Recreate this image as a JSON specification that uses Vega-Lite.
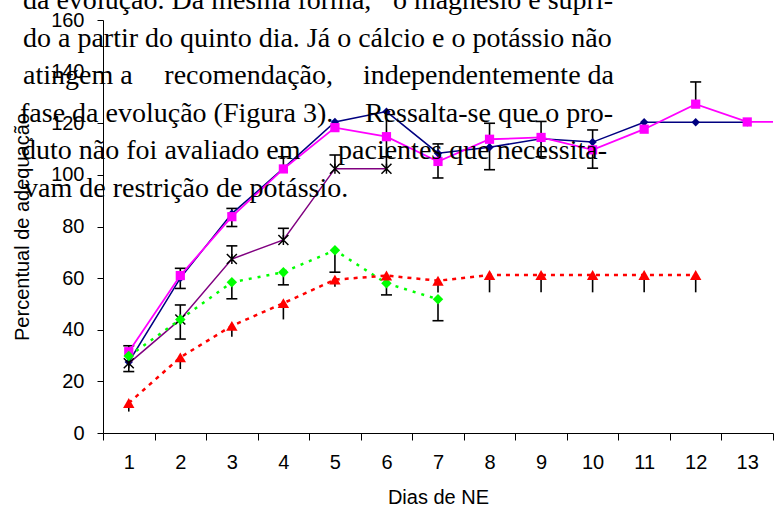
{
  "$schema": "https://vega.github.io/schema/vega-lite/v6.json",
  "width": 670,
  "height": 413,
  "autosize": "none",
  "padding": {"left": 103, "top": 20, "right": 2, "bottom": 80},
  "background": "white",
  "config": {
    "view": {"stroke": null},
    "axis": {
      "grid": false,
      "domainColor": "#000000",
      "tickColor": "#000000",
      "labelColor": "#000000",
      "titleColor": "#000000",
      "labelFont": "Liberation Sans",
      "titleFont": "Liberation Sans",
      "labelFontSize": 20,
      "titleFontSize": 20,
      "titleFontWeight": "normal"
    }
  },
  "datasets": {
    "series": [
      {"serie": "A", "dia": 1, "valor": 27.5}, {"serie": "A", "dia": 2, "valor": 60}, {"serie": "A", "dia": 3, "valor": 85}, {"serie": "A", "dia": 4, "valor": 102.5}, {"serie": "A", "dia": 5, "valor": 120.5}, {"serie": "A", "dia": 6, "valor": 124.5}, {"serie": "A", "dia": 7, "valor": 108.4}, {"serie": "A", "dia": 8, "valor": 110.7}, {"serie": "A", "dia": 9, "valor": 114}, {"serie": "A", "dia": 10, "valor": 112.7}, {"serie": "A", "dia": 11, "valor": 120.4}, {"serie": "A", "dia": 12, "valor": 120.4}, {"serie": "A", "dia": 13, "valor": 120.4},
      {"serie": "B", "dia": 1, "valor": 31.5}, {"serie": "B", "dia": 2, "valor": 61}, {"serie": "B", "dia": 3, "valor": 83.8}, {"serie": "B", "dia": 4, "valor": 102.3}, {"serie": "B", "dia": 5, "valor": 118.3}, {"serie": "B", "dia": 6, "valor": 114.8}, {"serie": "B", "dia": 7, "valor": 105.2}, {"serie": "B", "dia": 8, "valor": 113.8}, {"serie": "B", "dia": 9, "valor": 114.5}, {"serie": "B", "dia": 10, "valor": 109.7}, {"serie": "B", "dia": 11, "valor": 117.7}, {"serie": "B", "dia": 12, "valor": 127.4}, {"serie": "B", "dia": 13, "valor": 120.5}, {"serie": "B", "dia": 14, "valor": 120.5},
      {"serie": "C", "dia": 1, "valor": 27}, {"serie": "C", "dia": 2, "valor": 44}, {"serie": "C", "dia": 3, "valor": 67.4}, {"serie": "C", "dia": 4, "valor": 74.8}, {"serie": "C", "dia": 5, "valor": 102.4}, {"serie": "C", "dia": 6, "valor": 102.4},
      {"serie": "D", "dia": 1, "valor": 29.8}, {"serie": "D", "dia": 2, "valor": 44}, {"serie": "D", "dia": 3, "valor": 58.4}, {"serie": "D", "dia": 4, "valor": 62.3}, {"serie": "D", "dia": 5, "valor": 70.8}, {"serie": "D", "dia": 6, "valor": 58}, {"serie": "D", "dia": 7, "valor": 51.8},
      {"serie": "E", "dia": 1, "valor": 11.6}, {"serie": "E", "dia": 2, "valor": 29.3}, {"serie": "E", "dia": 3, "valor": 41.5}, {"serie": "E", "dia": 4, "valor": 50.3}, {"serie": "E", "dia": 5, "valor": 59.4}, {"serie": "E", "dia": 6, "valor": 61}, {"serie": "E", "dia": 7, "valor": 59}, {"serie": "E", "dia": 8, "valor": 61.2}, {"serie": "E", "dia": 9, "valor": 61.2}, {"serie": "E", "dia": 10, "valor": 61.2}, {"serie": "E", "dia": 11, "valor": 61.2}, {"serie": "E", "dia": 12, "valor": 61.2}
    ],
    "erros": [
      {"dia": 1, "de": 11.6, "ate": 8.3, "cap": false},
      {"dia": 2, "de": 29.3, "ate": 24.8, "cap": false},
      {"dia": 3, "de": 41.5, "ate": 37.3, "cap": false},
      {"dia": 4, "de": 50.3, "ate": 44, "cap": false},
      {"dia": 5, "de": 59.4, "ate": 56.7, "cap": false},
      {"dia": 7, "de": 59, "ate": 54.4, "cap": false},
      {"dia": 8, "de": 61.2, "ate": 54.5, "cap": false},
      {"dia": 9, "de": 61.2, "ate": 54.5, "cap": false},
      {"dia": 10, "de": 61.2, "ate": 54.5, "cap": false},
      {"dia": 11, "de": 61.2, "ate": 54.5, "cap": false},
      {"dia": 12, "de": 61.2, "ate": 54.5, "cap": false},
      {"dia": 3, "de": 58.4, "ate": 52, "cap": true},
      {"dia": 4, "de": 62.3, "ate": 57.4, "cap": true},
      {"dia": 5, "de": 70.8, "ate": 62.3, "cap": true},
      {"dia": 6, "de": 58, "ate": 53.5, "cap": true},
      {"dia": 7, "de": 51.8, "ate": 43.5, "cap": true},
      {"dia": 1, "de": 27, "ate": 23.8, "cap": true},
      {"dia": 2, "de": 44, "ate": 49.6, "cap": true},
      {"dia": 2, "de": 44, "ate": 36.4, "cap": true},
      {"dia": 3, "de": 67.4, "ate": 72.5, "cap": true},
      {"dia": 4, "de": 74.8, "ate": 79.3, "cap": true},
      {"dia": 5, "de": 102.4, "ate": 107.7, "cap": true},
      {"dia": 6, "de": 102.4, "ate": 107, "cap": true},
      {"dia": 1, "de": 31.5, "ate": 33.8, "cap": true},
      {"dia": 2, "de": 61, "ate": 63.8, "cap": true},
      {"dia": 2, "de": 61, "ate": 56, "cap": true},
      {"dia": 3, "de": 83.8, "ate": 87, "cap": true},
      {"dia": 3, "de": 83.8, "ate": 80, "cap": true},
      {"dia": 4, "de": 102.3, "ate": 107, "cap": true},
      {"dia": 6, "de": 107, "ate": 124.5, "cap": false},
      {"dia": 7, "de": 105.2, "ate": 112, "cap": true},
      {"dia": 7, "de": 105.2, "ate": 98.8, "cap": true},
      {"dia": 8, "de": 113.8, "ate": 120, "cap": true},
      {"dia": 8, "de": 113.8, "ate": 102, "cap": true},
      {"dia": 9, "de": 114.5, "ate": 120.7, "cap": true},
      {"dia": 9, "de": 114.5, "ate": 107, "cap": true},
      {"dia": 10, "de": 111, "ate": 117.4, "cap": true},
      {"dia": 10, "de": 111, "ate": 102.6, "cap": true},
      {"dia": 12, "de": 127.4, "ate": 136, "cap": true}
    ],
    "textoEsq": [
      {"x": -1.052, "y": 164.3, "t": "da evolução. Da mesma forma,"},
      {"x": -1.052, "y": 149.6, "t": "do a partir do quinto dia. Já o cálcio e o potássio não"},
      {"x": -1.052, "y": 135.1, "t": "atingem  a"},
      {"x": 1.69, "y": 135.1, "t": "recomendação,"},
      {"x": -1.11, "y": 120.5, "t": "fase da evolução (Figura 3)."},
      {"x": -1.07, "y": 106.0, "t": "duto não foi avaliado em"},
      {"x": -1.033, "y": 91.5, "t": "vam de restrição de potássio."}
    ],
    "textoDir": [
      {"x": 10.395, "y": 164.3, "t": "o magnésio é supri-"},
      {"x": 10.415, "y": 135.1, "t": "independentemente  da"},
      {"x": 10.395, "y": 120.5, "t": "Ressalta-se que o pro-"},
      {"x": 10.28, "y": 106.0, "t": "pacientes que necessita-"}
    ]
  },
  "encoding": {
    "x": {
      "field": "dia",
      "type": "quantitative",
      "scale": {"domain": [0.5, 13.5], "nice": false, "zero": false},
      "axis": {
        "title": "Dias de NE",
        "values": [0.5, 1.5, 2.5, 3.5, 4.5, 5.5, 6.5, 7.5, 8.5, 9.5, 10.5, 11.5, 12.5, 13.5],
        "labelExpr": "datum.value > 13 ? '' : toString(datum.value + 0.5)",
        "labelOffset": 25.77,
        "tickSize": 7,
        "labelPadding": 12,
        "titlePadding": 15,
        "labelFlush": false,
        "labelOverlap": false
      }
    },
    "y": {
      "field": "valor",
      "type": "quantitative",
      "scale": {"domain": [0, 160], "nice": false},
      "axis": {
        "title": "Percentual de adequação",
        "values": [0, 20, 40, 60, 80, 100, 120, 140, 160],
        "tickSize": 6,
        "labelPadding": 13,
        "titlePadding": 18
      }
    }
  },
  "layer": [
    {
      "data": {"name": "erros"},
      "mark": {"type": "rule", "color": "#000000", "strokeWidth": 1.6},
      "encoding": {"y": {"field": "de", "type": "quantitative"}, "y2": {"field": "ate"}}
    },
    {
      "data": {"name": "erros"},
      "transform": [{"filter": "datum.cap"}],
      "mark": {"type": "point", "shape": "M-1,0L1,0", "filled": false, "stroke": "#000000", "strokeWidth": 1.6, "size": 121, "opacity": 1},
      "encoding": {"y": {"field": "ate", "type": "quantitative"}}
    },
    {
      "data": {"name": "series"},
      "transform": [{"filter": "datum.serie == 'A'"}],
      "mark": {"type": "line", "color": "#000080", "strokeWidth": 1.5},
      "encoding": {}
    },
    {
      "data": {"name": "series"},
      "transform": [{"filter": "datum.serie == 'A'"}],
      "mark": {"type": "point", "shape": "diamond", "filled": true, "color": "#000080", "size": 70, "opacity": 1},
      "encoding": {}
    },
    {
      "data": {"name": "series"},
      "transform": [{"filter": "datum.serie == 'B'"}],
      "mark": {"type": "line", "color": "#FF00FF", "strokeWidth": 1.8, "clip": true},
      "encoding": {}
    },
    {
      "data": {"name": "series"},
      "transform": [{"filter": "datum.serie == 'B' && datum.dia <= 13"}],
      "mark": {"type": "point", "shape": "square", "filled": true, "color": "#FF00FF", "size": 85, "opacity": 1},
      "encoding": {}
    },
    {
      "data": {"name": "series"},
      "transform": [{"filter": "datum.serie == 'C'"}],
      "mark": {"type": "line", "color": "#800080", "strokeWidth": 1.5},
      "encoding": {}
    },
    {
      "data": {"name": "series"},
      "transform": [{"filter": "datum.serie == 'C'"}],
      "mark": {"type": "point", "shape": "M-1,-1L1,1M-1,1L1,-1M0,-1L0,1", "filled": false, "stroke": "#000000", "strokeWidth": 1.5, "size": 100, "opacity": 1},
      "encoding": {}
    },
    {
      "data": {"name": "series"},
      "transform": [{"filter": "datum.serie == 'D'"}],
      "mark": {"type": "line", "color": "#00FF00", "strokeWidth": 2.5, "strokeDash": [3, 6]},
      "encoding": {}
    },
    {
      "data": {"name": "series"},
      "transform": [{"filter": "datum.serie == 'D'"}],
      "mark": {"type": "point", "shape": "diamond", "filled": true, "color": "#00FF00", "size": 110, "opacity": 1},
      "encoding": {}
    },
    {
      "data": {"name": "series"},
      "transform": [{"filter": "datum.serie == 'E'"}],
      "mark": {"type": "line", "color": "#FF0000", "strokeWidth": 2.5, "strokeDash": [4, 5]},
      "encoding": {}
    },
    {
      "data": {"name": "series"},
      "transform": [{"filter": "datum.serie == 'E'"}],
      "mark": {"type": "point", "shape": "triangle-up", "filled": true, "color": "#FF0000", "size": 130, "opacity": 1},
      "encoding": {}
    },
    {
      "data": {"name": "textoEsq"},
      "mark": {"type": "text", "align": "left", "baseline": "alphabetic", "font": "Liberation Serif", "fontSize": 28, "color": "#000000"},
      "encoding": {
        "x": {"field": "x", "type": "quantitative"},
        "y": {"field": "y", "type": "quantitative"},
        "text": {"field": "t"}
      }
    },
    {
      "data": {"name": "textoDir"},
      "mark": {"type": "text", "align": "right", "baseline": "alphabetic", "font": "Liberation Serif", "fontSize": 28, "color": "#000000"},
      "encoding": {
        "x": {"field": "x", "type": "quantitative"},
        "y": {"field": "y", "type": "quantitative"},
        "text": {"field": "t"}
      }
    }
  ]
}
